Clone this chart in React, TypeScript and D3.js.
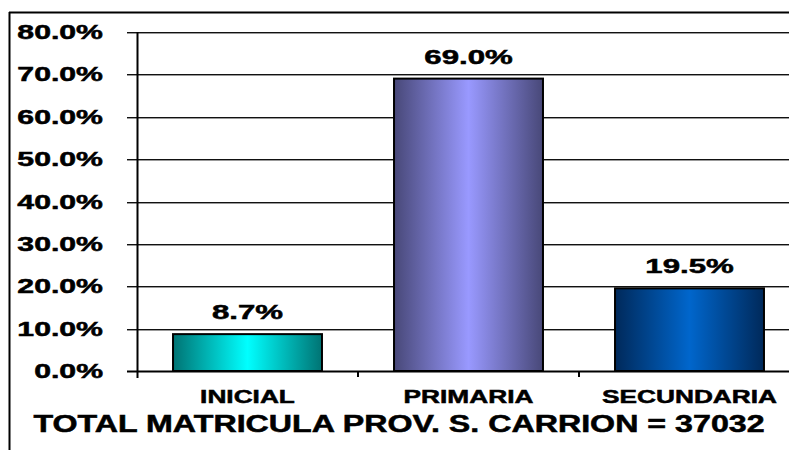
import React from "react";
import * as d3 from "d3";

const categories = ["INICIAL", "PRIMARIA", "SECUNDARIA"];
const values = [0.087, 0.69, 0.195];
const valueLabels = ["8.7%", "69.0%", "19.5%"];
const yTicks = [0, 0.1, 0.2, 0.3, 0.4, 0.5, 0.6, 0.7, 0.8];
const title = "TOTAL MATRICULA PROV. S. CARRION = 37032";
const barColors = [
  { edge: "#007373", mid: "#00FFFF" },
  { edge: "#484878", mid: "#9999FF" },
  { edge: "#00295A", mid: "#0066CC" },
];

const W = 789;
const H = 450;
const FONT = "'Liberation Sans', Arial, sans-serif";

export default function App() {
  const x = d3
    .scaleBand<string>()
    .domain(categories)
    .range([137, 800])
    .paddingInner(0.326)
    .paddingOuter(0.163);
  const step = x.step();
  const y = d3.scaleLinear().domain([0, 0.8]).range([371, 32]);
  const fmt = d3.format(".1%");
  const boundaries = categories.slice(1).map((c) => (x(c) as number) - step * 0.163);
  const textStyle = { stroke: "#000", strokeWidth: 0.5 };

  return (
    <svg
      width={W}
      height={H}
      style={{ position: "absolute", left: 0, top: 0, background: "#fff" }}
      fontFamily={FONT}
    >
      <defs>
        {barColors.map((c, i) => (
          <linearGradient key={i} id={`g${i}`} x1="0" x2="1" y1="0" y2="0">
            <stop offset="0" stopColor={c.edge} />
            <stop offset="0.5" stopColor={c.mid} />
            <stop offset="1" stopColor={c.edge} />
          </linearGradient>
        ))}
      </defs>
      <rect width={W} height={H} fill="#fff" />
      {/* outer border */}
      <line x1={9.5} x2={9.5} y1={12} y2={H} stroke="#000" strokeWidth={2} />
      <line x1={9} x2={W} y1={12.5} y2={12.5} stroke="#000" strokeWidth={2} />

      {/* gridlines */}
      {yTicks.slice(1).map((t) => (
        <g key={t}>
          <line x1={127} x2={W} y1={Math.round(y(t)) + 0.5} y2={Math.round(y(t)) + 0.5} stroke="#111" strokeWidth={1} />
          <line x1={127} x2={W} y1={Math.round(y(t)) + 1.5} y2={Math.round(y(t)) + 1.5} stroke="#999" strokeWidth={1} />
        </g>
      ))}

      {/* y tick labels */}
      {yTicks.map((t) => (
        <text
          key={t}
          transform={`translate(103,${y(t) + 7}) scale(1.55,1)`}
          textAnchor="end"
          fontSize={19.5}
          fontWeight="bold"
          fill="#000"
          style={textStyle}
        >
          {fmt(t)}
        </text>
      ))}

      {/* bars */}
      {categories.map((c, i) => (
        <rect
          key={c}
          x={x(c)}
          y={y(values[i])}
          width={x.bandwidth()}
          height={y(0) - y(values[i])}
          fill={`url(#g${i})`}
          stroke="#000"
          strokeWidth={2}
        />
      ))}

      {/* value labels */}
      {categories.map((c, i) => (
        <text
          key={c}
          transform={`translate(${(x(c) as number) + x.bandwidth() / 2},${y(values[i]) - 15}) scale(1.6,1)`}
          textAnchor="middle"
          fontSize={19.5}
          fontWeight="bold"
          fill="#000"
          style={textStyle}
        >
          {valueLabels[i]}
        </text>
      ))}

      {/* axes */}
      <line x1={137.5} x2={137.5} y1={32} y2={378} stroke="#000" strokeWidth={2} />
      <line x1={127} x2={W} y1={371.5} y2={371.5} stroke="#000" strokeWidth={2} />
      {boundaries.map((b, i) => (
        <line key={i} x1={b} x2={b} y1={371} y2={377} stroke="#000" strokeWidth={2} />
      ))}

      {/* category labels */}
      {categories.map((c) => (
        <text
          key={c}
          transform={`translate(${(x(c) as number) + x.bandwidth() / 2},403) scale(1.42,1)`}
          textAnchor="middle"
          fontSize={18.5}
          fontWeight="bold"
          fill="#000"
          style={textStyle}
        >
          {c}
        </text>
      ))}

      {/* title */}
      <text
        transform={`translate(399,432) scale(1.4,1)`}
        textAnchor="middle"
        fontSize={23}
        fontWeight="bold"
        fill="#000"
        style={textStyle}
      >
        {title}
      </text>
    </svg>
  );
}
